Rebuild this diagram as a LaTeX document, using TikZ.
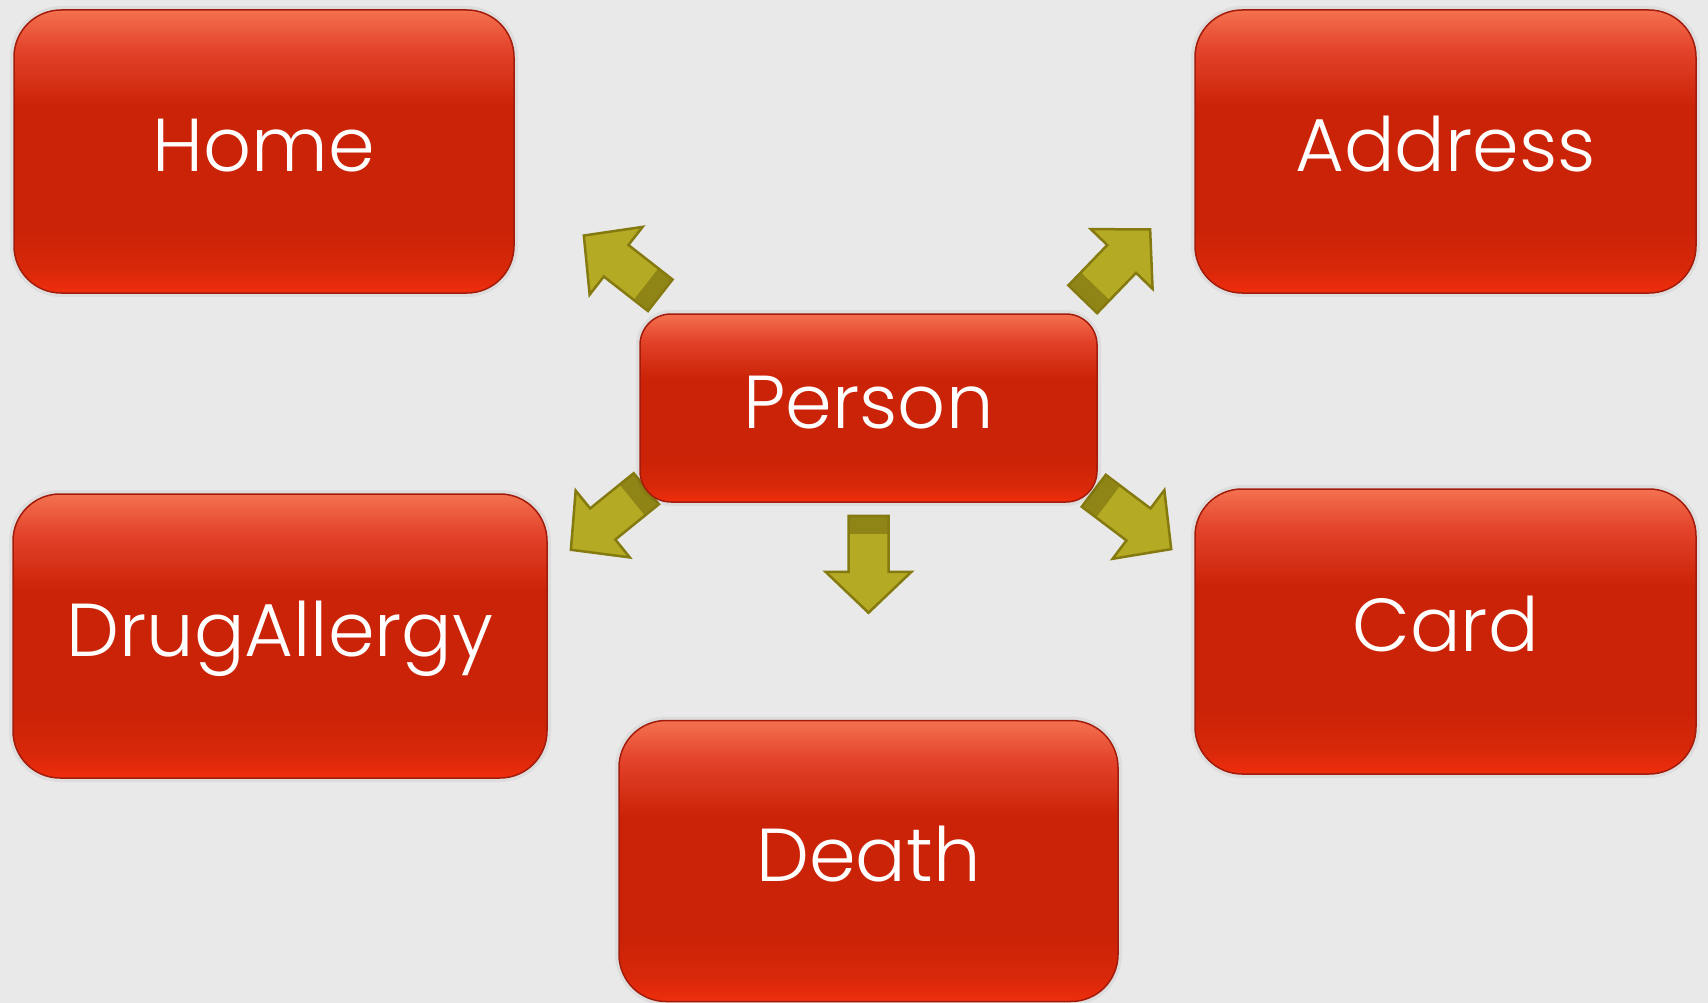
\documentclass[tikz,border=0pt]{standalone}
\usepackage{fontspec}
\setmainfont{Poppins}[UprightFont={* Light}]
\usetikzlibrary{calc}
\definecolor{bgc}{HTML}{E9E9E9}
\definecolor{topred}{HTML}{F4714F}
\definecolor{upred}{HTML}{E3432A}
\definecolor{midred}{HTML}{CB2307}
\definecolor{lowred}{HTML}{D9280A}
\definecolor{botred}{HTML}{F02E0C}
\definecolor{boxedge}{HTML}{A31C0B}
\definecolor{arrowfill}{HTML}{B5AA23}
\definecolor{arrowdark}{HTML}{8F8516}
\definecolor{arrowedge}{HTML}{857A10}
\pgfdeclareverticalshading{boxshade}{100bp}{color(0bp)=(botred); color(25bp)=(botred); color(29bp)=(lowred); color(36bp)=(midred); color(58bp)=(midred); color(68bp)=(upred); color(75bp)=(topred); color(100bp)=(topred)}
\pgfdeclarelayer{bglayer}
\pgfdeclarelayer{arrowlayer}
\pgfsetlayers{bglayer,arrowlayer,main}
\tikzset{
  boxnode/.style={rectangle, rounded corners=#1, shading=boxshade, draw=boxedge,
    line width=1.5pt, inner sep=0pt, text=white,
    font=\fontsize{75}{90}\selectfont, text height=40pt, text depth=0pt,
    preaction={draw=black, draw opacity=0.05, line width=8pt}},
  arrowbody/.style={fill=arrowfill},
  arrowband/.style={fill=arrowdark},
  arrowline/.style={draw=arrowedge, line width=2.5pt, line join=miter}
}
\newcommand{\blockarr}[2]{%
  \begin{scope}[shift={#1}, rotate=#2]
    \fill[arrowbody] (0,-20) -- (56,-20) -- (56,-43) -- (97,0) -- (56,43) -- (56,20) -- (0,20) -- cycle;
    \fill[arrowband] (0,-20) rectangle (18,20);
    \draw[arrowline] (0,-20) -- (56,-20) -- (56,-43) -- (97,0) -- (56,43) -- (56,20) -- (0,20) -- cycle;
  \end{scope}}
\begin{document}
\begin{tikzpicture}[x=1pt, y=-1pt]
  \useasboundingbox (0,0) rectangle (1708,1003);
  \begin{pgfonlayer}{bglayer}
    \fill[bgc] (0,0) rectangle (1708,1003);
  \end{pgfonlayer}

  \node[boxnode=47, minimum width=500pt, minimum height=283pt] (home) at (264,151.5) {Home};
  \node[boxnode=47, minimum width=501pt, minimum height=283pt] (address) at (1445.5,151.5) {Address};
  \node[boxnode=31, minimum width=457pt, minimum height=188pt] (person) at (868.5,408) {Person};
  \node[boxnode=47, minimum width=534pt, minimum height=284pt] (drug) at (280,636) {DrugAllergy};
  \node[boxnode=47, minimum width=501pt, minimum height=285pt] (card) at (1445.5,631.5) {Card};
  \node[boxnode=47, minimum width=499pt, minimum height=281pt] (death) at (868.5,861) {Death};

  \begin{pgfonlayer}{arrowlayer}
    \blockarr{($(person.north west)+(21,-18)$)}{142}
    \blockarr{($(person.north east)+(-15,-14)$)}{46}
    \blockarr{($(person.south west)+(7,-14)$)}{219}
    \blockarr{($(person.south)+(0,13)$)}{270}
    \blockarr{($(person.south east)+(-4,-12)$)}{-37}
  \end{pgfonlayer}
\end{tikzpicture}
\end{document}
